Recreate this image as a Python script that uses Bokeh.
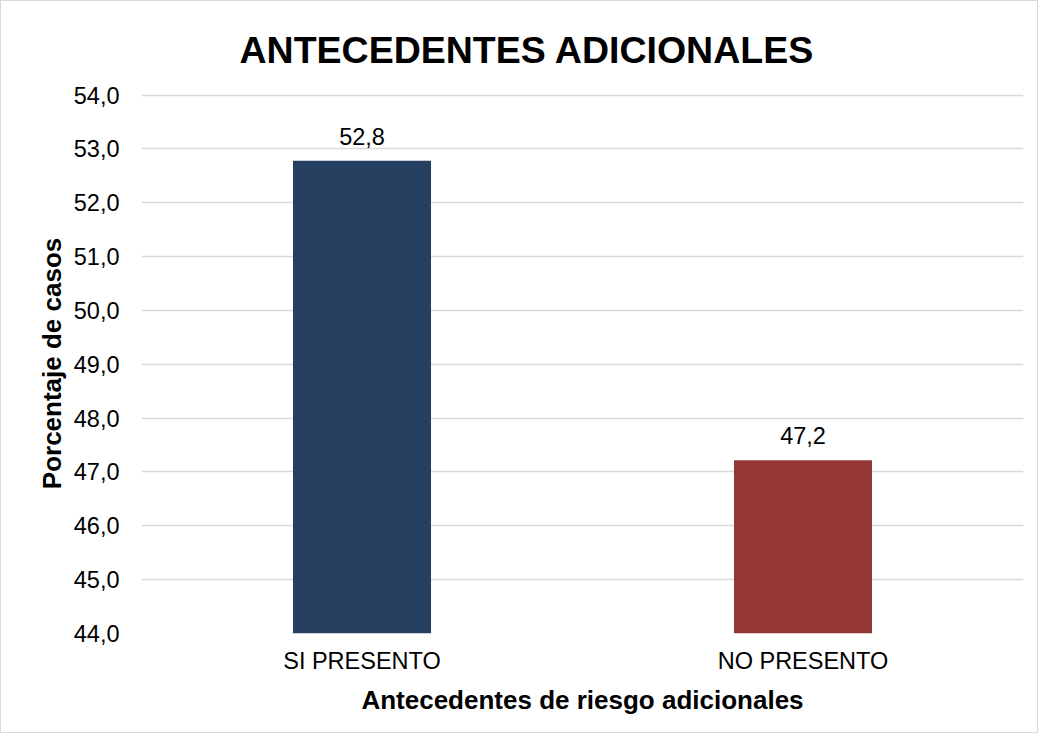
from bokeh.plotting import figure
from bokeh.layouts import column
from bokeh.models import ColumnDataSource, Range1d, FixedTicker, CustomJSTickFormatter, LabelSet, Title
from bokeh.core.properties import value
from bokeh.embed import file_html
from bokeh.resources import INLINE

categories = ["SI PRESENTO", "NO PRESENTO"]
values = [52.78, 47.22]
colors = ["#264061", "#953735"]
y_ticks = [44, 45, 46, 47, 48, 49, 50, 51, 52, 53, 54]
title_text = "ANTECEDENTES ADICIONALES"
x_label = "Antecedentes de riesgo adicionales"
y_label = "Porcentaje de casos"

FONT = "Liberation Sans"

labels = [f"{v:.1f}".replace(".", ",") for v in values]
src = ColumnDataSource(dict(cat=categories, val=values, color=colors, lab=labels))

p = figure(
    x_range=categories,
    y_range=Range1d(y_ticks[0], y_ticks[-1] + 0.03),
    width=1036, height=739,
    output_backend="svg", toolbar_location=None,
    min_border_left=140, min_border_right=14, min_border_top=100, min_border_bottom=99,
)
p.styles = {"margin-top": "-8px"}
p.outline_line_color = None
p.background_fill_color = "white"
p.border_fill_color = None

p.title = Title(text=title_text, align="left", text_font=FONT, text_font_size="37.5px",
                text_font_style="bold", text_color="black", standoff=46, offset=98)

p.vbar(x="cat", top="val", bottom=y_ticks[0], width=0.313, color="color", source=src, line_color=None)

p.add_layout(LabelSet(x="cat", y="val", text="lab", source=src, text_align="center",
                      text_baseline="alphabetic", y_offset=16, text_font=value(FONT),
                      text_font_size=value("23.5px"), text_color="black"))

p.yaxis.ticker = FixedTicker(ticks=y_ticks)
p.yaxis.formatter = CustomJSTickFormatter(code="return tick.toFixed(1).replace('.', ',');")
p.ygrid.ticker = FixedTicker(ticks=y_ticks)
p.ygrid.grid_line_color = "#d9d9d9"
p.ygrid.grid_line_width = 1.3
p.xgrid.grid_line_color = None

for ax in (p.xaxis, p.yaxis):
    ax.axis_line_color = None
    ax.major_tick_line_color = None
    ax.minor_tick_line_color = None
    ax.major_tick_out = 0
    ax.major_tick_in = 0
    ax.minor_tick_out = 0
    ax.major_label_text_font = FONT
    ax.major_label_text_font_size = "23.5px"
    ax.major_label_text_color = "black"
    ax.axis_label_text_font = FONT
    ax.axis_label_text_font_size = "26px"
    ax.axis_label_text_font_style = "bold"
    ax.axis_label_text_color = "black"

p.yaxis.axis_label = y_label
p.yaxis.major_label_standoff = 22
p.yaxis.axis_label_standoff = 4
p.xaxis.axis_label = x_label
p.xaxis.major_label_standoff = 14
p.xaxis.axis_label_standoff = 8

layout = column(p, styles={"border": "1px solid #d9d9d9", "background-color": "white"})

open("out.html", "w").write(file_html(layout, INLINE))
